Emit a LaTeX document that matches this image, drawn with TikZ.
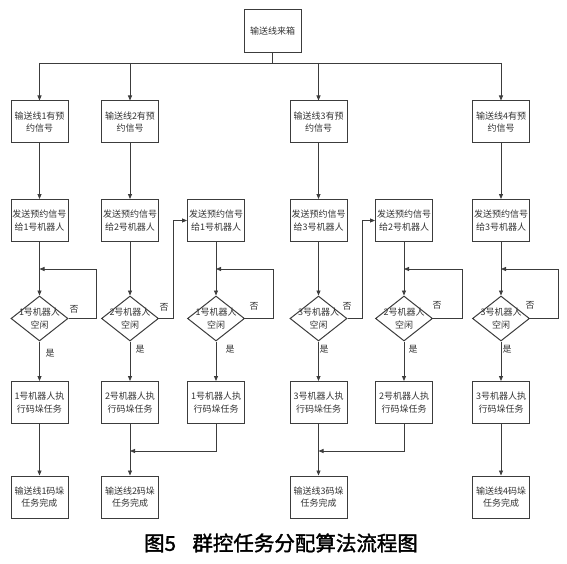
\documentclass[tikz,border=0pt]{standalone}
\usepackage{fontspec}
\newfontfamily\cjk{Noto Sans CJK SC}
\newfontfamily\cjkcap[FakeBold=1.6]{Noto Sans CJK SC}
\usetikzlibrary{arrows.meta,shapes.geometric}
\definecolor{linecol}{HTML}{3C3C3C}
\definecolor{txtcol}{HTML}{333333}
\begin{document}
\begin{tikzpicture}[x=1pt,y=-1pt,
  box/.style={draw=linecol, line width=1pt, minimum width=57pt, minimum height=42pt,
    inner sep=1pt, align=center, text=txtcol, font=\cjk\fontsize{9}{12.5}\selectfont},
  dia/.style={draw=linecol, line width=1pt, diamond, minimum width=57pt, minimum height=45pt, inner sep=0pt},
  dtext/.style={align=center, text=txtcol, inner sep=0pt, font=\cjk\fontsize{9}{12.5}\selectfont},
  lab/.style={text=txtcol, inner sep=0pt, font=\cjk\fontsize{9}{11}\selectfont},
  ln/.style={draw=linecol, line width=0.8pt},
  arr/.style={ln, -{Triangle[length=5pt,width=4pt]}}]
\useasboundingbox (0,0) rectangle (567,564);

% top
\node[box, minimum height=43pt] (top) at (272.5,31.5) {输送线来箱};

% row 1
\node[box] (r1a) at (39.5,122) {输送线1有预\\约信号};
\node[box] (r1b) at (130,122) {输送线2有预\\约信号};
\node[box] (r1d) at (318.5,122) {输送线3有预\\约信号};
\node[box] (r1f) at (501,122) {输送线4有预\\约信号};

% row 2
\node[box] (r2a) at (39.5,220.5) {发送预约信号\\给1号机器人};
\node[box] (r2b) at (130,220.5) {发送预约信号\\给2号机器人};
\node[box] (r2c) at (216,220.5) {发送预约信号\\给1号机器人};
\node[box] (r2d) at (318.5,220.5) {发送预约信号\\给3号机器人};
\node[box] (r2e) at (404,220.5) {发送预约信号\\给2号机器人};
\node[box] (r2f) at (501,220.5) {发送预约信号\\给3号机器人};

% diamonds
\node[dia] (dA) at (39.5,318.5) {};
\node[dia] (dB) at (130,318.5) {};
\node[dia] (dC) at (216,318.5) {};
\node[dia] (dD) at (318.5,318.5) {};
\node[dia] (dE) at (404,318.5) {};
\node[dia] (dF) at (501,318.5) {};
\node[dtext] (tA) at (dA) {1号机器人\\空闲};
\node[dtext] (tB) at (dB) {2号机器人\\空闲};
\node[dtext] (tC) at (dC) {1号机器人\\空闲};
\node[dtext] (tD) at (dD) {3号机器人\\空闲};
\node[dtext] (tE) at (dE) {2号机器人\\空闲};
\node[dtext] (tF) at (dF) {3号机器人\\空闲};

% row 3
\node[box] (r3a) at (39.5,402.5) {1号机器人执\\行码垛任务};
\node[box] (r3b) at (130,402.5) {2号机器人执\\行码垛任务};
\node[box] (r3c) at (216,402.5) {1号机器人执\\行码垛任务};
\node[box] (r3d) at (318.5,402.5) {3号机器人执\\行码垛任务};
\node[box] (r3e) at (404,402.5) {2号机器人执\\行码垛任务};
\node[box] (r3f) at (501,402.5) {3号机器人执\\行码垛任务};

% row 4
\node[box] (r4a) at (39.5,497) {输送线1码垛\\任务完成};
\node[box] (r4b) at (130,497) {输送线2码垛\\任务完成};
\node[box] (r4d) at (318.5,497) {输送线3码垛\\任务完成};
\node[box] (r4f) at (501,497) {输送线4码垛\\任务完成};

% caption
\node[text=black, font=\cjkcap\fontsize{20.5}{24}\selectfont] (cap) at (281,543) {图5\hspace{0.8em}群控任务分配算法流程图};

% bus
\coordinate (bus) at (272.5,63);
\draw[ln] (top.south) -- (bus);
\draw[ln] (r1a.north |- bus) -- (r1f.north |- bus);
\foreach \n in {r1a,r1b,r1d,r1f} \draw[arr] (\n.north |- bus) -- (\n.north);

% row1 -> row2
\foreach \c in {a,b,d,f} \draw[arr] (r1\c.south) -- (r2\c.north);
% row2 -> diamonds
\foreach \c/\D in {a/A,b/B,c/C,d/D,e/E,f/F} \draw[arr] (r2\c.south) -- (d\D.north);
% diamonds -> row3
\foreach \c/\D in {a/A,b/B,c/C,d/D,e/E,f/F} \draw[arr] (d\D.south) -- (r3\c.north);
% row3 -> row4
\foreach \c in {a,b,d,f} \draw[arr] (r3\c.south) -- (r4\c.north);

% loops
\coordinate (lA) at (96,269);
\coordinate (lC) at (273,269);
\coordinate (lE) at (462,269);
\coordinate (lF) at (558,269);
\draw[arr] (dA.east) -| (lA) -- (lA -| dA.north);
\draw[arr] (dC.east) -| (lC) -- (lC -| dC.north);
\draw[arr] (dE.east) -| (lE) -- (lE -| dE.north);
\draw[arr] (dF.east) -| (lF) -- (lF -| dF.north);

% cross transfers
\coordinate (xB) at (173,220.5);
\coordinate (xD) at (362,220.5);
\draw[arr] (dB.east) -| (xB) -- (r2c.west);
\draw[arr] (dD.east) -| (xD) -- (r2e.west);

% merges
\coordinate (mB) at (130,451);
\coordinate (mD) at (318.5,451);
\draw[arr] (r3c.south) |- (mB);
\draw[arr] (r3e.south) |- (mD);

% labels
\node[lab] (nA) at (74,309) {否};
\node[lab] (nB) at (164,307) {否};
\node[lab] (nC) at (254,306) {否};
\node[lab] (nD) at (347,306) {否};
\node[lab] (nE) at (437,305) {否};
\node[lab] (nF) at (530,305) {否};
\node[lab] (yA) at (50,353) {是};
\node[lab] (yB) at (140,349) {是};
\node[lab] (yC) at (230,349) {是};
\node[lab] (yD) at (324,349) {是};
\node[lab] (yE) at (413,349) {是};
\node[lab] (yF) at (507,349) {是};
\end{tikzpicture}
\end{document}
